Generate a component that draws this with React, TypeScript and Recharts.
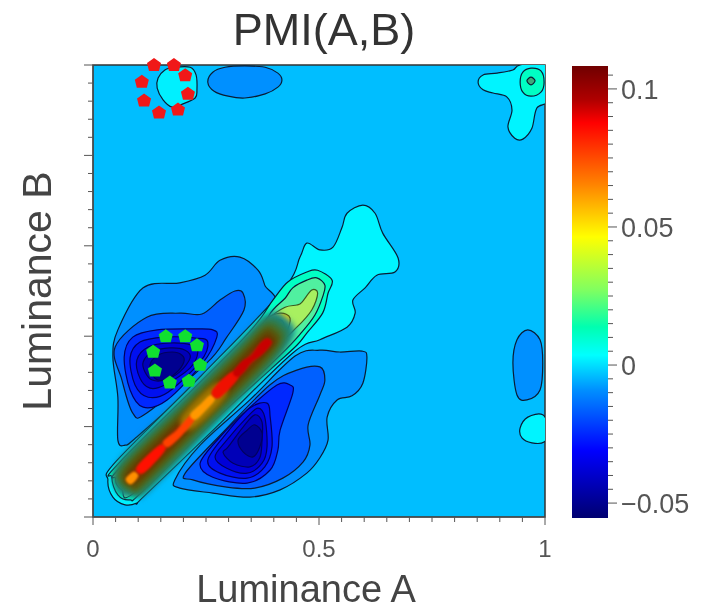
import React from "react"
import { ScatterChart, Scatter, XAxis, YAxis, ReferenceArea, BarChart, Bar } from "recharts"

type Pair = [number, number]

const FONT = "'Liberation Sans', Arial, sans-serif"
const BASE = "#00beff"

// ticks
const xTicks = [0, 0.05, 0.1, 0.15, 0.2, 0.25, 0.3, 0.35, 0.4, 0.45, 0.5, 0.55, 0.6, 0.65, 0.7, 0.75, 0.8, 0.85, 0.9, 0.95, 1]
const xLabelled = [0, 0.5, 1]
const yTicks = [0, 0.04, 0.08, 0.12, 0.16, 0.2, 0.24, 0.28, 0.32, 0.36, 0.4, 0.44, 0.48, 0.52, 0.56, 0.6, 0.64, 0.68, 0.72, 0.76, 0.8, 0.84, 0.88, 0.92, 0.96, 1]
const yMajor = [0, 0.2, 0.4, 0.6, 0.8, 1]
const barTicks = [-0.05, -0.045, -0.04, -0.035, -0.03, -0.025, -0.02, -0.015, -0.01, -0.005, 0, 0.005, 0.01, 0.015, 0.02, 0.025, 0.03, 0.035, 0.04, 0.045, 0.05, 0.055, 0.06, 0.065, 0.07, 0.075, 0.08, 0.085, 0.09, 0.095, 0.1, 0.105]
const barLabels: Record<string, string> = { "-0.05": "\u22120.05", "0": "0", "0.05": "0.05", "0.1": "0.1" }

// colour bar
const barDomain: Pair = [-0.0554, 0.1083]
const barValues = [0.1083, 0.096, 0.0877, 0.0659, 0.0464, 0.0272, 0.0138, 0.0036, -0.009, -0.026, -0.031, -0.0554]
const barColors = ["#700000", "#b00000", "#ff0000", "#ff8000", "#ffff00", "#80ff60", "#00ffb0", "#00ffff", "#0090ff", "#0020ff", "#0000ff", "#000070"]

// contours, [Luminance A, Luminance B]
const topBlob: Pair[] = [[0.181, 0.995], [0.215, 0.995], [0.228, 0.978], [0.23, 0.945], [0.226, 0.927], [0.199, 0.914], [0.175, 0.907], [0.155, 0.923], [0.142, 0.949], [0.144, 0.971], [0.159, 0.989]]
const topOval: Pair[] = [[0.254, 0.962], [0.265, 0.984], [0.292, 0.995], [0.336, 0.998], [0.381, 0.995], [0.409, 0.982], [0.418, 0.967], [0.409, 0.951], [0.381, 0.936], [0.336, 0.927], [0.299, 0.931], [0.268, 0.942]]
const cornerCyan: Pair[] = [[0.852, 0.962], [0.863, 0.978], [0.894, 0.982], [0.929, 0.989], [0.945, 1.0], [1.01, 1.01], [1.01, 0.925], [0.982, 0.905], [0.971, 0.86], [0.951, 0.836], [0.933, 0.838], [0.918, 0.863], [0.927, 0.9], [0.916, 0.929], [0.885, 0.938], [0.863, 0.945]]
const cornerTeal: Pair[] = [[0.969, 0.993], [0.991, 0.987], [0.998, 0.962], [0.991, 0.94], [0.969, 0.931], [0.951, 0.94], [0.945, 0.962], [0.951, 0.984]]
const cornerDot: Pair[] = [[0.969, 0.973], [0.978, 0.965], [0.969, 0.956], [0.96, 0.965]]
const rightOval: Pair[] = [[0.962, 0.414], [0.989, 0.392], [0.995, 0.341], [0.989, 0.281], [0.96, 0.259], [0.938, 0.27], [0.929, 0.341], [0.938, 0.392]]
const rightBlob: Pair[] = [[0.945, 0.197], [0.962, 0.221], [0.995, 0.226], [1.01, 0.192], [0.998, 0.166], [0.971, 0.164], [0.949, 0.175]]

const leftOuter: Pair[] = [[0.111, 0.507], [0.192, 0.518], [0.248, 0.535], [0.281, 0.568], [0.325, 0.575], [0.365, 0.546], [0.38, 0.513], [0.396, 0.458], [0.237, 0.303], [0.097, 0.177], [0.071, 0.159], [0.055, 0.17], [0.055, 0.265], [0.044, 0.354], [0.055, 0.414]]
const leftMid: Pair[] = [[0.049, 0.376], [0.119, 0.442], [0.192, 0.451], [0.241, 0.449], [0.281, 0.48], [0.314, 0.5], [0.332, 0.495], [0.334, 0.458], [0.296, 0.398], [0.252, 0.341], [0.119, 0.23], [0.088, 0.23], [0.064, 0.303]]
const leftDeep1: Pair[] = [[0.069, 0.354], [0.088, 0.398], [0.142, 0.414], [0.226, 0.416], [0.265, 0.414], [0.274, 0.398], [0.243, 0.341], [0.164, 0.259], [0.111, 0.243], [0.082, 0.281]]
const leftDeep2: Pair[] = [[0.082, 0.352], [0.104, 0.387], [0.159, 0.398], [0.226, 0.396], [0.254, 0.387], [0.237, 0.343], [0.166, 0.276], [0.122, 0.265], [0.093, 0.292]]
const leftDeep3: Pair[] = [[0.097, 0.347], [0.122, 0.376], [0.17, 0.385], [0.219, 0.38], [0.232, 0.365], [0.215, 0.33], [0.159, 0.292], [0.126, 0.285], [0.104, 0.307]]
const leftDeep4: Pair[] = [[0.111, 0.343], [0.131, 0.365], [0.17, 0.374], [0.204, 0.369], [0.215, 0.352], [0.192, 0.321], [0.159, 0.303], [0.131, 0.303], [0.115, 0.321]]
const leftCore: Pair[] = [[0.126, 0.336], [0.144, 0.358], [0.175, 0.365], [0.197, 0.358], [0.201, 0.343], [0.184, 0.319], [0.157, 0.303], [0.137, 0.307]]

const lowOuter: Pair[] = [[0.181, 0.082], [0.192, 0.064], [0.265, 0.053], [0.347, 0.044], [0.414, 0.06], [0.473, 0.097], [0.502, 0.131], [0.52, 0.17], [0.518, 0.221], [0.54, 0.259], [0.573, 0.268], [0.597, 0.296], [0.606, 0.354], [0.595, 0.367], [0.546, 0.365], [0.502, 0.369], [0.447, 0.356], [0.347, 0.259], [0.237, 0.159]]
const lowMid: Pair[] = [[0.204, 0.097], [0.221, 0.082], [0.296, 0.066], [0.358, 0.064], [0.42, 0.086], [0.465, 0.122], [0.48, 0.159], [0.476, 0.204], [0.502, 0.27], [0.513, 0.303], [0.502, 0.332], [0.451, 0.325], [0.391, 0.292], [0.292, 0.192]]
const lowDeep1: Pair[] = [[0.237, 0.119], [0.265, 0.088], [0.341, 0.075], [0.392, 0.104], [0.409, 0.148], [0.414, 0.192], [0.442, 0.274], [0.436, 0.292], [0.407, 0.292], [0.341, 0.237], [0.281, 0.177]]
const lowDeep2: Pair[] = [[0.254, 0.126], [0.281, 0.097], [0.341, 0.086], [0.38, 0.111], [0.396, 0.155], [0.392, 0.221], [0.385, 0.252], [0.347, 0.241], [0.296, 0.186]]
const lowDeep3: Pair[] = [[0.27, 0.133], [0.296, 0.108], [0.341, 0.097], [0.374, 0.119], [0.385, 0.155], [0.38, 0.221], [0.365, 0.241], [0.341, 0.221], [0.296, 0.17]]
const lowDeep4: Pair[] = [[0.288, 0.142], [0.31, 0.119], [0.347, 0.111], [0.369, 0.131], [0.374, 0.17], [0.374, 0.21], [0.358, 0.226], [0.332, 0.199], [0.299, 0.155]]
const lowCore: Pair[] = [[0.321, 0.17], [0.332, 0.144], [0.354, 0.133], [0.369, 0.155], [0.374, 0.186], [0.358, 0.204], [0.341, 0.192]]

const ridgeCyan: Pair[] = [[0.033, 0.082], [0.05, 0.122], [0.24, 0.313], [0.42, 0.502], [0.458, 0.575], [0.473, 0.606], [0.502, 0.591], [0.531, 0.597], [0.551, 0.641], [0.562, 0.672], [0.597, 0.69], [0.624, 0.672], [0.641, 0.628], [0.675, 0.573], [0.668, 0.542], [0.628, 0.535], [0.602, 0.507], [0.575, 0.48], [0.58, 0.451], [0.562, 0.42], [0.502, 0.392], [0.442, 0.363], [0.278, 0.204], [0.112, 0.045], [0.097, 0.031], [0.071, 0.027], [0.044, 0.044]]
const ridgeTeal: Pair[] = [[0.451, 0.38], [0.473, 0.407], [0.508, 0.451], [0.52, 0.495], [0.529, 0.524], [0.497, 0.546], [0.473, 0.542], [0.431, 0.52], [0.398, 0.48], [0.33, 0.392], [0.06, 0.122], [0.042, 0.088], [0.055, 0.049], [0.082, 0.038], [0.108, 0.055], [0.27, 0.215], [0.391, 0.325]]
const ridgeGreen: Pair[] = [[0.462, 0.409], [0.491, 0.447], [0.508, 0.487], [0.513, 0.513], [0.495, 0.529], [0.473, 0.524], [0.442, 0.507], [0.425, 0.484], [0.398, 0.458], [0.345, 0.395], [0.07, 0.12], [0.05, 0.085], [0.064, 0.06], [0.093, 0.055], [0.281, 0.232], [0.414, 0.358]]
const ridgeLime: Pair[] = [[0.451, 0.42], [0.484, 0.458], [0.497, 0.495], [0.484, 0.502], [0.462, 0.475], [0.451, 0.469], [0.425, 0.464], [0.391, 0.44], [0.374, 0.403], [0.403, 0.38]]
const ridgeGold: Pair[] = [[0.385, 0.436], [0.414, 0.451], [0.436, 0.44], [0.425, 0.407], [0.391, 0.396]]
const ridgeAmber: Pair[] = [[0.387, 0.427], [0.414, 0.436], [0.423, 0.42], [0.403, 0.403]]

// the diagonal glow, outer to inner
const glow0: Pair[] = [[0.06, 0.126], [0.2, 0.268], [0.33, 0.398], [0.39, 0.452], [0.425, 0.44], [0.445, 0.405], [0.39, 0.33], [0.268, 0.2], [0.126, 0.06], [0.09, 0.045], [0.05, 0.06]]
const glow1: Pair[] = [[0.06, 0.118], [0.2, 0.258], [0.33, 0.388], [0.385, 0.442], [0.42, 0.432], [0.435, 0.4], [0.388, 0.33], [0.258, 0.2], [0.118, 0.06], [0.088, 0.052], [0.058, 0.066]]
const glow2: Pair[] = [[0.065, 0.11], [0.2, 0.246], [0.33, 0.376], [0.38, 0.426], [0.41, 0.42], [0.42, 0.392], [0.376, 0.33], [0.246, 0.2], [0.11, 0.065], [0.085, 0.06], [0.065, 0.072]]
const glow3: Pair[] = [[0.072, 0.106], [0.2, 0.234], [0.33, 0.364], [0.38, 0.414], [0.4, 0.41], [0.41, 0.388], [0.364, 0.33], [0.234, 0.2], [0.106, 0.072], [0.085, 0.068]]
const glow4: Pair[] = [[0.08, 0.1], [0.2, 0.222], [0.33, 0.352], [0.38, 0.402], [0.396, 0.398], [0.4, 0.382], [0.352, 0.33], [0.222, 0.2], [0.1, 0.08]]
const glow5: Pair[] = [[0.088, 0.1], [0.2, 0.212], [0.33, 0.342], [0.38, 0.392], [0.392, 0.39], [0.392, 0.38], [0.342, 0.33], [0.212, 0.2], [0.1, 0.088]]
const glowMiddle: Pair[] = [[0.195, 0.22], [0.27, 0.295], [0.295, 0.27], [0.22, 0.195]]

const streakGold: Pair[] = [[0.072, 0.084], [0.09, 0.1], [0.1, 0.09], [0.084, 0.072]]
const streakRed1: Pair[] = [[0.096, 0.108], [0.118, 0.134], [0.15, 0.16], [0.16, 0.15], [0.134, 0.118], [0.108, 0.096]]
const streakOrange1: Pair[] = [[0.155, 0.167], [0.185, 0.192], [0.215, 0.225], [0.225, 0.215], [0.198, 0.182], [0.167, 0.155]]
const streakYellow: Pair[] = [[0.215, 0.227], [0.238, 0.25], [0.26, 0.27], [0.27, 0.26], [0.25, 0.236], [0.227, 0.215]]
const streakRed2: Pair[] = [[0.262, 0.276], [0.285, 0.304], [0.31, 0.322], [0.322, 0.31], [0.302, 0.284], [0.276, 0.262]]
const streakDark: Pair[] = [[0.31, 0.32], [0.33, 0.345], [0.35, 0.358], [0.37, 0.385], [0.385, 0.395], [0.395, 0.385], [0.375, 0.36], [0.35, 0.342], [0.335, 0.322], [0.32, 0.31]]

// circled pixels
const redMarks: Pair[] = [[0.135, 1.018], [0.179, 1.018], [0.204, 0.995], [0.21, 0.953], [0.188, 0.918], [0.146, 0.911], [0.113, 0.938], [0.108, 0.98]]
const greenMarks: Pair[] = [[0.161, 0.407], [0.204, 0.407], [0.23, 0.387], [0.237, 0.343], [0.212, 0.307], [0.17, 0.303], [0.137, 0.33], [0.133, 0.372]]

const LINE = "#0a1c34"
const DEEP = "#000060"
const layers: { pts: Pair[]; fill: string; stroke?: string; blur?: number }[] = [
  { pts: topBlob, fill: "#00f0ff", stroke: LINE },
  { pts: topOval, fill: "#0090ff", stroke: LINE },
  { pts: cornerCyan, fill: "#00f4ff", stroke: LINE },
  { pts: cornerTeal, fill: "#00ffc4", stroke: LINE },
  { pts: cornerDot, fill: "#3fa87a", stroke: LINE },
  { pts: rightOval, fill: "#0090ff", stroke: LINE },
  { pts: rightBlob, fill: "#00f4ff", stroke: LINE },
  { pts: leftOuter, fill: "#0090ff", stroke: LINE },
  { pts: leftMid, fill: "#0060ff", stroke: LINE },
  { pts: leftDeep1, fill: "#0028ff", stroke: DEEP },
  { pts: leftDeep2, fill: "#0010f0", stroke: DEEP },
  { pts: leftDeep3, fill: "#0000d8", stroke: DEEP },
  { pts: leftDeep4, fill: "#0000b8", stroke: DEEP },
  { pts: leftCore, fill: "#000090", stroke: DEEP },
  { pts: lowOuter, fill: "#0090ff", stroke: LINE },
  { pts: lowMid, fill: "#0060ff", stroke: LINE },
  { pts: lowDeep1, fill: "#0028ff", stroke: DEEP },
  { pts: lowDeep2, fill: "#0010f0", stroke: DEEP },
  { pts: lowDeep3, fill: "#0000d8", stroke: DEEP },
  { pts: lowDeep4, fill: "#0000b8", stroke: DEEP },
  { pts: lowCore, fill: "#000090", stroke: DEEP },
  { pts: ridgeCyan, fill: "#00f4ff", stroke: LINE },
  { pts: ridgeTeal, fill: "#00ffc4", stroke: LINE },
  { pts: ridgeGreen, fill: "#50f0a0", stroke: LINE },
  { pts: ridgeLime, fill: "#a8f060", stroke: "#3a5a20" },
  { pts: ridgeGold, fill: "#d8d020", stroke: "#5a5000" },
  { pts: ridgeAmber, fill: "#e0a010", stroke: "#5a4000" },
  { pts: glow0, fill: "#148a98", blur: 3 },
  { pts: glow1, fill: "#2a8058", blur: 3 },
  { pts: glow2, fill: "#4a6a20", blur: 3 },
  { pts: glow3, fill: "#5c5008", blur: 2.5 },
  { pts: glow4, fill: "#6a3800", blur: 2 },
  { pts: glow5, fill: "#9a3000", blur: 1.5 },
  { pts: glowMiddle, fill: "#a07800", blur: 2.5 },
  { pts: streakGold, fill: "#ff9000", blur: 1 },
  { pts: streakRed1, fill: "#ff1000", blur: 1 },
  { pts: streakOrange1, fill: "#ff4000", blur: 1 },
  { pts: streakYellow, fill: "#ff9800", blur: 1 },
  { pts: streakRed2, fill: "#f01000", blur: 1 },
  { pts: streakDark, fill: "#c80000", blur: 1 },
]

const toData = (pts: Pair[]) => pts.map(([x, y]) => ({ x, y }))

// closed catmull-rom through the scaled points
function closedPath(points: { x: number; y: number }[]) {
  const n = points.length
  let d = `M${points[0].x},${points[0].y}`
  for (let i = 0; i < n; i++) {
    const p0 = points[(i - 1 + n) % n]
    const p1 = points[i]
    const p2 = points[(i + 1) % n]
    const p3 = points[(i + 2) % n]
    d += `C${p1.x + (p2.x - p0.x) / 6},${p1.y + (p2.y - p0.y) / 6},${p2.x - (p3.x - p1.x) / 6},${p2.y - (p3.y - p1.y) / 6},${p2.x},${p2.y}`
  }
  return d + "Z"
}

const contourLine = (fill: string, stroke?: string, blur?: number) => (props: any) => (
  <path
    d={closedPath(props.points)}
    fill={fill}
    stroke={stroke ?? "none"}
    strokeWidth={1.2}
    style={blur ? { filter: `blur(${blur}px)` } : undefined}
  />
)

function XTick({ x, y, payload }: any) {
  const major = xLabelled.includes(payload.value)
  return (
    <g>
      <line x1={x} x2={x} y1={y} y2={y + (major ? 8 : 5)} stroke="#555" />
      {major && (
        <text x={x} y={y + 40} textAnchor="middle" fontSize={24} fontFamily={FONT} fill="#555">
          {payload.value}
        </text>
      )}
    </g>
  )
}

function YTick({ x, y, payload }: any) {
  const major = yMajor.includes(payload.value)
  return <line x1={x - (major ? 9 : 5)} x2={x} y1={y} y2={y} stroke="#555" />
}

function BarTick({ x, y, payload }: any) {
  const label = barLabels[String(payload.value)]
  return (
    <g>
      <line x1={x} x2={x + (label ? 9 : 5)} y1={y} y2={y} stroke="#555" />
      {label && (
        <text x={x + 13} y={y + 10} fontSize={27} fontFamily={FONT} fill="#555">
          {label}
        </text>
      )}
    </g>
  )
}

const pentagon = (fill: string) => (props: any) => {
  const { cx, cy } = props
  return (
    <path
      d={`M${cx},${cy - 7}L${cx + 7},${cy - 2}L${cx + 5},${cy + 6}L${cx - 5},${cy + 6}L${cx - 7},${cy - 2}Z`}
      fill={fill}
      style={{ filter: "blur(0.5px)" }}
    />
  )
}

export default function App() {
  return (
    <div style={{ position: "absolute", left: 0, top: 0, width: 702, height: 610, background: "#fff", filter: "blur(0.7px)" }}>
      <div style={{ position: "absolute", left: 0, top: 0 }}>
        <ScatterChart width={702} height={610} margin={{ top: 65, right: 157, bottom: 33, left: 33 }}>
          <XAxis
            type="number"
            dataKey="x"
            domain={[0, 1]}
            allowDataOverflow
            ticks={xTicks}
            interval={0}
            tick={<XTick />}
            tickSize={0}
            tickMargin={0}
            tickLine={false}
            axisLine={{ stroke: "#555" }}
            height={60}
            label={{ value: "Luminance A", position: "insideBottom", offset: -25, dx: -13, fontSize: 38, fontFamily: FONT, fill: "#444" }}
          />
          <YAxis
            type="number"
            dataKey="y"
            domain={[0, 1]}
            allowDataOverflow
            ticks={yTicks}
            interval={0}
            tick={<YTick />}
            tickSize={0}
            tickMargin={0}
            tickLine={false}
            axisLine={{ stroke: "#555" }}
            width={60}
            label={{ value: "Luminance B", angle: -90, position: "insideLeft", offset: 3, fontSize: 41, fontFamily: FONT, fill: "#444", style: { textAnchor: "middle" } }}
          />
          <XAxis xAxisId="marks" type="number" dataKey="x" domain={[0, 1]} hide height={60} />
          <YAxis yAxisId="marks" type="number" dataKey="y" domain={[0, 1]} hide width={60} />
          <ReferenceArea x1={0} x2={1} y1={0} y2={1} fill={BASE} fillOpacity={1} stroke="#333" strokeWidth={1.5} />
          {layers.map((l, i) => (
            <Scatter
              key={i}
              data={toData(l.pts)}
              line={contourLine(l.fill, l.stroke, l.blur)}
              shape={() => null}
              isAnimationActive={false}
            />
          ))}
          <Scatter xAxisId="marks" yAxisId="marks" data={toData(redMarks)} shape={pentagon("#f01818")} isAnimationActive={false} />
          <Scatter xAxisId="marks" yAxisId="marks" data={toData(greenMarks)} shape={pentagon("#10e030")} isAnimationActive={false} />
          <text x={324} y={45} textAnchor="middle" fontSize={45} fontFamily={FONT} fill="#333">
            PMI(A,B)
          </text>
        </ScatterChart>
      </div>
      <div style={{ position: "absolute", left: 572, top: 66 }}>
        <BarChart
          width={130}
          height={452}
          data={[{ name: "PMI", range: barDomain }]}
          margin={{ top: 0, right: 0, bottom: 0, left: 0 }}
          barCategoryGap={0}
        >
          <defs>
            <linearGradient id="pmiScale" x1="0" y1="0" x2="0" y2="1">
              {barValues.map((v, i) => (
                <stop key={v} offset={(barDomain[1] - v) / (barDomain[1] - barDomain[0])} stopColor={barColors[i]} />
              ))}
            </linearGradient>
          </defs>
          <XAxis dataKey="name" hide />
          <YAxis
            orientation="right"
            domain={barDomain}
            allowDataOverflow
            ticks={barTicks}
            interval={0}
            tick={<BarTick />}
            tickSize={0}
            tickMargin={0}
            tickLine={false}
            axisLine={false}
            width={94}
          />
          <Bar dataKey="range" fill="url(#pmiScale)" isAnimationActive={false} />
        </BarChart>
      </div>
    </div>
  )
}
